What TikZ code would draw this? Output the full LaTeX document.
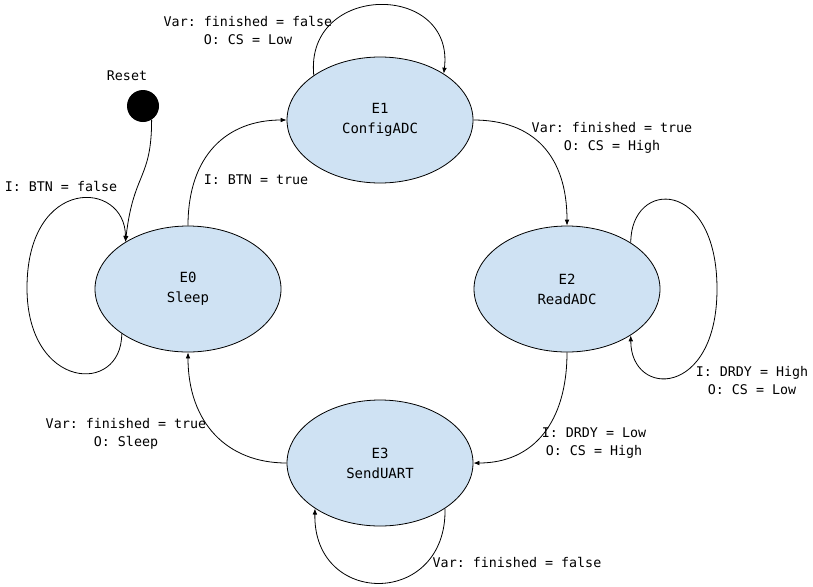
\documentclass[tikz,border=0pt]{standalone}
\usepackage{fontspec}
\setmonofont{DejaVu Sans Mono}
\usepackage{tikz}
\usetikzlibrary{positioning,arrows.meta,shapes.geometric}
\definecolor{stblue}{RGB}{207,226,243}
\tikzset{
  st/.style={ellipse, draw, fill=stblue, line width=0.6pt, minimum width=139.5pt, minimum height=94.5pt, inner sep=0pt, align=center, font=\ttfamily\fontsize{10.5}{15}\selectfont},
  ini/.style={circle, fill=black, minimum size=24pt, inner sep=0pt},
  tr/.style={-{Latex[length=4.5pt,width=3.5pt]}, line width=0.6pt},
  lbl/.style={align=center, inner sep=0pt, font=\ttfamily\fontsize{10}{13.5}\selectfont},
  fsm/.style={x=0.75pt, y=-0.75pt}
}
\begin{document}
\begin{tikzpicture}[fsm]
        \useasboundingbox (0,0) rectangle (813,586);
        \node[ini] (rst) at (143,106) {};
        \node[lbl] (rstl) at (127,76) {Reset};
        \node[st] (e0) at (188,289) {E0\\Sleep};
        \node[st] (e1) at (380,120) {E1\\ConfigADC};
        \node[st] (e2) at (567,289) {E2\\ReadADC};
        \node[st] (e3) at (380,463) {E3\\SendUART};
        \coordinate (w0) at (27,288);
        \coordinate (w2) at (717,289);
        \draw[tr] (rst.-58) .. controls +(0,60) and +(8,-70) .. (e0.143);
        \draw[tr] (e0.north) .. controls +(0,-70) and +(-60,0) .. (e1.west);
        \draw[tr] (e1.east) .. controls +(60,0) and +(0,-70) .. (e2.north);
        \draw[tr] (e2.south) .. controls +(0,70) and +(60,0) .. (e3.east);
        \draw[tr] (e3.west) .. controls +(-60,0) and +(0,70) .. (e0.south);
        \draw[tr] (e0.214) .. controls +(0,62) and +(0,102) .. (w0)
          .. controls +(0,-113) and +(0,-62) .. (e0.143);
        \draw[tr] (e1.146) .. controls +(-9,-93) and +(11,-92) .. (e1.36);
        \draw[tr] (e2.36) .. controls +(0,-64) and +(0,-111) .. (w2)
          .. controls +(0,109) and +(0,63) .. (e2.-36);
        \draw[tr] (e3.-35) .. controls +(2,99) and +(-2,99) .. (e3.215);
        \node[lbl] (l00) at (61,186) {I: BTN = false};
        \node[lbl] (l01) at (256,180) {I: BTN = true};
        \node[lbl] (l11) at (248,30) {Var: finished = false\\O: CS = Low};
        \node[lbl] (l12) at (612,138) {Var: finished = true\\O: CS = High};
        \node[lbl] (l22) at (752,381) {I: DRDY = High\\O: CS = Low};
        \node[lbl] (l23) at (594,443) {I: DRDY = Low\\O: CS = High};
        \node[lbl] (l33) at (517,562) {Var: finished = false};
        \node[lbl] (l30) at (126,434) {Var: finished = true\\O: Sleep};
      \end{tikzpicture}
\end{document}
